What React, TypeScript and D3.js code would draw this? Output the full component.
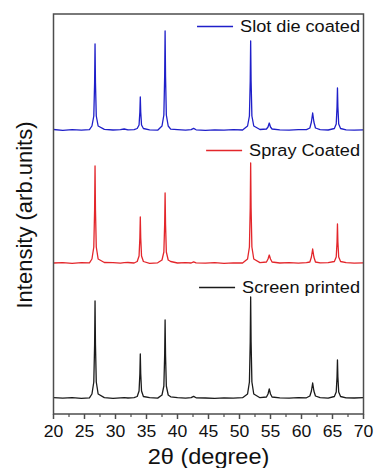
import React, { useEffect, useRef } from "react";
import * as d3 from "d3";

// 2theta sample positions (degree)
const twoTheta = [
  20, 21.5, 23, 24.5, 25.8,
  26.2, 26.5, 26.63, 26.7, 26.77, 26.9, 27.2,
  28.2, 29.6, 30.8, 31.4, 32.0, 33.0,
  33.5, 33.8, 33.93, 34.0, 34.07, 34.2, 34.5,
  35.5, 36.8,
  37.5, 37.8, 37.93, 38.0, 38.07, 38.2, 38.5,
  38.9, 40.0, 41.3, 42.2, 42.6, 43.0, 44.5, 46.0, 47.5, 49.0, 50.5,
  51.3, 51.6, 51.73, 51.8, 51.87, 52.0, 52.3,
  53.3,
  54.35, 54.6, 54.8, 55.0, 55.25,
  56.5, 58.0, 59.5, 60.8,
  61.35, 61.6, 61.8, 62.0, 62.25,
  63.0, 64.3,
  65.3, 65.6, 65.73, 65.8, 65.87, 66.0, 66.3,
  67.2, 68.5, 70,
];

// intensities (arb. units), one value per 2theta point
const screenPrinted = [
  0.3, -0.2, 0.4, -0.3, 0.2,
  4, 16, 53, 97, 53, 16, 4,
  0.4, -0.3, 0.2, 0.3, 0, 0.4,
  1.5, 7, 24, 44, 24, 7, 1.5,
  0.3, -0.1,
  3, 12, 43, 78, 43, 12, 3,
  1.2, 0.3, -0.2, 0.3, 1.6, 0.2, 0, -0.3, 0.2, -0.2, 0.3,
  4, 16, 56, 101, 56, 16, 4,
  0.3,
  1, 4, 9, 4, 1,
  0.2, -0.2, 0.3, 0.2,
  2, 7, 15, 7, 2,
  0.3, -0.2,
  1.5, 6, 21, 38, 21, 6, 1.5,
  0.2, 0, 0.3,
];

const sprayCoated = [
  0, 0.4, -0.3, 0.3, 0.2,
  4, 16, 53, 97, 53, 16, 4,
  0.5, 0.3, -0.2, 0.3, 0.5, 0,
  1.5, 7, 25, 46, 25, 7, 1.5,
  -0.3, 0.2,
  3, 11, 39, 70, 39, 11, 3,
  1.5, 0, 0.3, 0, 1.2, 0.2, -0.2, 0.3, -0.3, 0.2, 0,
  4, 16, 55, 100, 55, 16, 4,
  0.4,
  1, 4, 8, 4, 1,
  0, 0.3, -0.2, 0.3,
  1, 6, 14, 6, 1,
  0.2, 0.3,
  1.5, 6, 21, 39, 21, 6, 1.5,
  0.3, -0.1, 0.2,
];

const slotDieCoated = [
  0.5, -0.3, 0.4, -0.2, 0.3,
  4, 14, 47, 86, 47, 14, 4,
  0.6, 0, 0.3, 1.0, 0.2, 0.3,
  1.5, 5, 18, 33, 18, 5, 1.5,
  0.2, -0.2,
  4, 15, 54, 99, 54, 15, 4,
  0.8, 0.3, -0.2, 0.3, 1.6, 0.2, -0.3, 0.2, -0.1, 0.3, 0,
  4, 14, 49, 89, 49, 14, 4,
  0.5,
  1, 3, 7, 3, 1,
  0.2, -0.2, 0.3, 0.4,
  2, 8, 17, 8, 2,
  0.4, 0,
  1.5, 6, 23, 42, 23, 6, 1.5,
  0.2, -0.2, 0.2,
];

const seriesNames = ["Screen printed", "Spray Coated", "Slot die coated"];
const seriesColors = ["#1b1b1b", "#e3262b", "#1f1fc9"];
const seriesOffsets = [16, 151, 284];

const xTicks = [20, 25, 30, 35, 40, 45, 50, 55, 60, 65, 70];
const xMinorTicks = [22.5, 27.5, 32.5, 37.5, 42.5, 47.5, 52.5, 57.5, 62.5, 67.5];

export default function App() {
  const svgRef = useRef<SVGSVGElement>(null);

  useEffect(() => {
    const w = 377;
    const h = 468;
    const left = 53.5, right = 363.5, top = 14, bottom = 414;
    const font = "'Liberation Sans', Arial, sans-serif";
    const stretch = 1.1;

    const svg = d3.select(svgRef.current).attr("width", w).attr("height", h);
    svg.selectAll("*").remove();
    svg.append("rect").attr("width", w).attr("height", h).attr("fill", "#fff");

    const x = d3.scaleLinear().domain([20, 70]).range([left, right]);
    const y = d3.scaleLinear().domain([0, 400]).range([bottom, top]);

    const allSeries = [screenPrinted, sprayCoated, slotDieCoated];

    // spectra
    allSeries.forEach((vals, s) => {
      const line = d3
        .line<number>()
        .x((_, i) => x(twoTheta[i]))
        .y((d) => y(d + seriesOffsets[s]));
      svg
        .append("path")
        .datum(vals)
        .attr("d", line)
        .attr("fill", "none")
        .attr("stroke", seriesColors[s])
        .attr("stroke-width", 1.3)
        .attr("stroke-linejoin", "round");
    });

    // frame
    svg
      .append("rect")
      .attr("x", left)
      .attr("y", top)
      .attr("width", right - left)
      .attr("height", bottom - top)
      .attr("fill", "none")
      .attr("stroke", "#4d4d4d")
      .attr("stroke-width", 1.5);

    // x ticks (outward)
    svg
      .append("g")
      .selectAll("line")
      .data(xTicks)
      .join("line")
      .attr("x1", (d) => x(d))
      .attr("x2", (d) => x(d))
      .attr("y1", bottom)
      .attr("y2", bottom + 5)
      .attr("stroke", "#4d4d4d")
      .attr("stroke-width", 1.5);
    svg
      .append("g")
      .selectAll("line")
      .data(xMinorTicks)
      .join("line")
      .attr("x1", (d) => x(d))
      .attr("x2", (d) => x(d))
      .attr("y1", bottom)
      .attr("y2", bottom + 3)
      .attr("stroke", "#4d4d4d")
      .attr("stroke-width", 1.2);

    svg
      .append("g")
      .selectAll("text")
      .data(xTicks)
      .join("text")
      .attr("transform", (d) => `translate(${x(d)}, 436.5) scale(${stretch},1)`)
      .attr("text-anchor", "middle")
      .style("font-family", font)
      .style("font-size", "16px")
      .attr("fill", "#111")
      .text((d) => d);

    // axis titles
    svg
      .append("text")
      .attr("transform", `translate(${(left + right) / 2}, 464) scale(1.07,1)`)
      .attr("text-anchor", "middle")
      .style("font-family", font)
      .style("font-size", "22px")
      .attr("fill", "#111")
      .text("2\u03b8 (degree)");

    svg
      .append("text")
      .attr("transform", `translate(32, 215) rotate(-90)`)
      .attr("text-anchor", "middle")
      .style("font-family", font)
      .style("font-size", "22px")
      .attr("fill", "#111")
      .text("Intensity (arb.units)");

    // legends, one per stacked pattern
    const legendBaselines = [293, 156, 32];
    seriesNames.forEach((name, s) => {
      const t = svg
        .append("text")
        .attr("transform", `translate(360, ${legendBaselines[s]}) scale(${stretch},1)`)
        .attr("text-anchor", "end")
        .style("font-family", font)
        .style("font-size", "16.5px")
        .attr("fill", "#111")
        .text(name);
      const len = (t.node() as SVGTextElement).getComputedTextLength() * stretch;
      const start = 360 - len - 7;
      svg
        .append("line")
        .attr("x1", start - 36)
        .attr("x2", start)
        .attr("y1", legendBaselines[s] - 5.5)
        .attr("y2", legendBaselines[s] - 5.5)
        .attr("stroke", seriesColors[s])
        .attr("stroke-width", 1.3);
    });
  }, []);

  return (
    <div style={{ position: "absolute", left: 0, top: 0 }}>
      <svg ref={svgRef}></svg>
    </div>
  );
}
